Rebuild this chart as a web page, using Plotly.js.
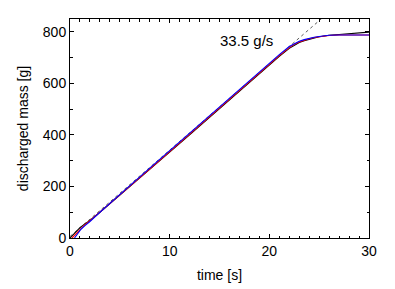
<!DOCTYPE html>
<html>
<head>
<meta charset="utf-8">
<script src="https://cdn.plot.ly/plotly-3.0.1.min.js"></script>
<style>html,body{margin:0;padding:0;background:#fff;}#chart{width:395px;height:289px;}</style>
</head>
<body>
<div id="chart"></div>
<script>
// time [s] and discharged mass [g] for three runs
const timeBlack = [0, 0.3, 0.7, 1.0, 1.5, 2, 3, 4, 5, 6, 7, 8, 9, 10, 11, 12, 13, 14, 15, 16, 17, 18, 19, 20, 21, 22, 22.5, 23, 23.5, 24, 24.5, 25, 25.5, 26, 27, 28, 29, 30];
const massBlack = [0, 12, 30, 40, 55, 68, 100, 133, 166, 199, 232, 266, 299, 332, 366, 400, 434, 468, 502, 536, 570, 604, 638, 672, 705, 736, 749, 759, 766, 772, 777, 781, 784, 787, 790, 793, 796, 799];

const timeRed = [0.2, 0.7, 1.0, 1.5, 2, 3, 4, 5, 6, 7, 8, 9, 10, 11, 12, 13, 14, 15, 16, 17, 18, 19, 20, 21, 22, 22.5, 23, 23.5, 24, 24.5, 25, 25.5, 26, 27, 28, 29, 30];
const massRed = [0, 20, 32, 52, 67, 100, 134, 167, 201, 234, 268, 301, 335, 369, 403, 437, 471, 505, 539, 573, 607, 641, 675, 708, 739, 752, 761, 768, 773, 778, 781, 784, 786, 788, 788, 788, 788];

const timeBlue = [0.45, 0.8, 1.1, 1.5, 2, 3, 4, 5, 6, 7, 8, 9, 10, 11, 12, 13, 14, 15, 16, 17, 18, 19, 20, 21, 22, 22.5, 23, 23.5, 24, 24.5, 25, 25.5, 26, 27, 28, 29, 30];
const massBlue = [0, 18, 34, 48, 64, 100, 135, 169, 203, 237, 271, 305, 339, 373, 407, 441, 475, 509, 543, 577, 611, 645, 679, 712, 743, 755, 764, 770, 775, 779, 782, 785, 787, 788, 788, 788, 788];

// linear fit: 33.5 g/s
const fitTime = [0, 26];
const fitMass = [6, 877];
const fitLabel = "33.5 g/s";

const xTitle = "time [s]";
const yTitle = "discharged mass [g]";

const traces = [
  {x: fitTime, y: fitMass, mode: 'lines', line: {color: '#333', width: 0.8, dash: '3px,3px'}, hoverinfo: 'skip'},
  {x: timeBlack, y: massBlack, mode: 'lines', line: {color: '#000', width: 1.1}},
  {x: timeRed, y: massRed, mode: 'lines', line: {color: '#ff0000', width: 1.1}},
  {x: timeBlue, y: massBlue, mode: 'lines', line: {color: '#0000ff', width: 1.1}}
];

const axisCommon = {
  showline: true, linecolor: '#000', linewidth: 1, mirror: 'ticks',
  ticks: 'inside', ticklen: 4, tickwidth: 1, tickcolor: '#000',
  showgrid: false, zeroline: false,
  tickfont: {family: 'Liberation Sans, Arial, sans-serif', size: 14, color: '#000'}
};

const layout = {
  width: 395, height: 289,
  margin: {l: 70, r: 26, t: 19, b: 51},
  paper_bgcolor: '#fff', plot_bgcolor: '#fff',
  showlegend: false,
  font: {family: 'Liberation Sans, Arial, sans-serif', size: 14, color: '#000'},
  xaxis: Object.assign({}, axisCommon, {
    range: [0, 30], tickvals: [0, 10, 20, 30],
    minor: {dtick: 1, ticks: 'inside', ticklen: 2.5, tickcolor: '#000', showgrid: false},
    title: {text: xTitle, font: {size: 14}, standoff: 12}
  }),
  yaxis: Object.assign({}, axisCommon, {
    range: [0, 850], tickvals: [0, 200, 400, 600, 800],
    minor: {dtick: 100, ticks: 'inside', ticklen: 2.5, tickcolor: '#000', showgrid: false},
    title: {text: yTitle, font: {size: 14}, standoff: 10}
  }),
  annotations: [{
    x: 14.85, y: 766, xref: 'x', yref: 'y', text: fitLabel, showarrow: false,
    xanchor: 'left', yanchor: 'middle', font: {size: 15, color: '#000'}
  }]
};

Plotly.newPlot('chart', traces, layout, {displayModeBar: false, staticPlot: true});
</script>
</body>
</html>
